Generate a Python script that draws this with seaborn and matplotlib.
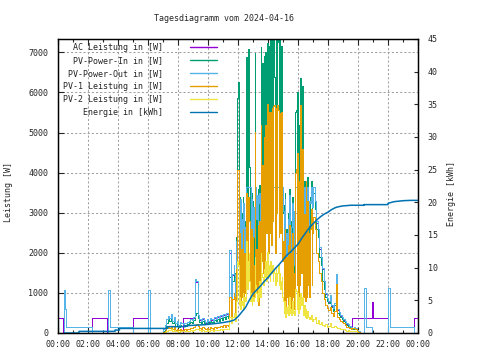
import numpy as np
import matplotlib
matplotlib.use("Agg")
import matplotlib.pyplot as plt
from matplotlib.ticker import MultipleLocator
from matplotlib.lines import Line2D
import seaborn as sns

# ---------------- data ----------------
title = "Tagesdiagramm vom 2024-04-16"
names = ["AC Leistung in [W]", "PV-Power-In in [W]", "PV-Power-Out in [W]",
         "PV-1 Leistung in [W]", "PV-2 Leistung in [W]", "Energie in [kWh]"]
colors = ["#9400D3", "#009E73", "#56B4E9", "#E69F00", "#F0E442", "#0072B2"]
xticks_h = [0, 2, 4, 6, 8, 10, 12, 14, 16, 18, 20, 22, 24]
xtick_labels = ["00:00", "02:00", "04:00", "06:00", "08:00", "10:00", "12:00",
                "14:00", "16:00", "18:00", "20:00", "22:00", "00:00"]

# sample times (hours): morning every 6 min, midday every 3 min, evening every 6 min
morn_t = np.round(np.arange(7.0, 11.71, 0.1), 2)     # 48
mid_t = np.round(np.arange(11.75, 17.001, 0.05), 2)  # 106
eve_t = np.round(np.arange(17.1, 20.21, 0.1), 2)     # 32

# PV-Power-In
pv_in_morn = [
    50, 120, 250, 350, 300, 380, 250, 300, 180, 220,
    150, 200, 180, 170, 200, 180, 220, 240, 280, 260,
    330, 450, 500, 380, 280, 240, 300, 260, 220, 280,
    240, 300, 280, 240, 330, 290, 350, 310, 380, 330,
    400, 350, 420, 380, 1400, 700, 1300, 1500]
pv_in_mid = [
    1500, 600, 2400, 4500, 5860, 6265, 1800, 3400, 1200, 3000, 1500, 3400, 1000, 2800, 1600, 3600, 6890, 3000, 7080, 7050,
    4140, 1500, 3500, 1200, 3300, 1400, 2500, 6975, 2000, 3000, 1500, 3600, 1200, 3700, 2000, 7140, 3000, 6730, 2500, 6900,
    3000, 7000, 4000, 6200, 7230, 3500, 7150, 4200, 7300, 3800, 7300, 4500, 7300, 6390, 3500, 7300, 4800, 7300, 7260, 4000,
    7300, 4300, 7150, 6730, 3000, 3200, 1000, 3500, 800, 2600, 1500, 3000, 900, 3600, 1200, 2800, 1000, 3400, 1500, 2200,
    1000, 5500, 5560, 2000, 6010, 1500, 5200, 2000, 6350, 2500, 6160, 4800, 1500, 3800, 1200, 3600, 1400, 3900, 1800, 3200,
    1500, 3400, 3800, 1800, 3300, 3500]
pv_in_eve = [
    3100, 2600, 2400, 1900, 1700, 1300, 1100, 900, 800,
    750, 850, 650, 560, 700, 1250, 500, 460, 400, 360,
    310, 260, 200, 180, 150, 110, 90, 110, 100, 55,
    25, 0, 0]

# PV-Power-Out
pv_out_morn = [
    100, 200, 350, 420, 380, 475, 300, 400, 250, 300,
    200, 280, 240, 230, 260, 240, 280, 300, 350, 320,
    400, 1350, 1300, 450, 350, 300, 380, 320, 280, 350,
    300, 380, 340, 300, 400, 350, 420, 380, 450, 400,
    480, 420, 500, 450, 2060, 800, 1480, 1700]
pv_out_mid = [
    1480, 850, 2300, 3640, 3640, 3640, 3050, 2400, 3350, 1700, 2850, 2100, 3250, 1600, 2650, 3450, 3640, 3640, 3640, 3640,
    3640, 3640, 2500, 3350, 1900, 3150, 2400, 3640, 3640, 2850, 3450, 2300, 3250, 3500, 2650, 3640, 3640, 3640, 3640, 3640,
    3640, 3640, 3640, 3640, 3640, 3640, 3640, 3640, 3640, 3640, 3640, 3640, 3640, 3640, 3640, 3640, 3640, 3640, 3640, 3640,
    3640, 3640, 3640, 3640, 3640, 3050, 2300, 3350, 1700, 2500, 1450, 2850, 2100, 3450, 1900, 1500, 2650, 3250, 2100, 1700,
    3050, 3640, 3640, 3640, 3640, 3350, 3640, 2850, 3640, 3640, 3640, 3640, 2700, 3640, 2500, 3450, 2300, 3640, 3050, 2700,
    3300, 3250, 3640, 3350, 3150, 3640]
pv_out_eve = [
    3300, 2800, 2600, 2150, 1900, 1630, 1300, 1000, 880,
    800, 950, 700, 620, 760, 1480, 600, 520, 450, 400,
    350, 300, 240, 220, 180, 150, 120, 140, 120, 80,
    40, 0, 0]

# AC Leistung (midday it runs just under PV-Power-Out)
ac_morn = [
    0, 0, 0, 0, 0, 0, 0, 0, 0, 0,
    0, 0, 0, 380, 380, 380, 380, 380, 380, 380,
    380, 1330, 1280, 430, 330, 280, 360, 300, 260, 330,
    280, 360, 320, 280, 380, 330, 400, 360, 430, 380,
    460, 400, 480, 430, 2000, 780, 1450, 1650]
ac_mid = pv_out_mid
ac_eve = [
    3250, 2750, 2550, 2100, 1850, 1600, 1250, 980, 850,
    780, 920, 680, 600, 740, 1450, 580, 500, 430, 380,
    330, 280, 220, 200, 160, 130, 380, 380, 380, 380,
    380, 380, 380]

# PV-1 Leistung
pv1_morn = [
    20, 50, 120, 150, 130, 180, 110, 140, 80, 100,
    70, 90, 80, 75, 90, 80, 100, 110, 130, 120,
    150, 200, 230, 170, 130, 110, 140, 120, 100, 130,
    110, 140, 130, 110, 150, 130, 160, 140, 180, 150,
    190, 160, 200, 180, 900, 400, 850, 1000]
pv1_mid = [
    900, 400, 1600, 3000, 4060, 4060, 1200, 2500, 700, 2100, 900, 2600, 600, 2000, 1000, 2700, 3500, 1500, 3400, 3200,
    2800, 900, 2600, 700, 2400, 800, 1700, 5015, 1200, 2100, 900, 2700, 700, 2800, 1100, 5200, 1800, 4200, 1500, 4900,
    1800, 5200, 2500, 4300, 5700, 2000, 5500, 2500, 5520, 2200, 5600, 2800, 5650, 5680, 2000, 5600, 3000, 5680, 5560, 2400,
    5480, 2500, 5500, 4900, 1800, 2300, 600, 2600, 500, 1900, 900, 2200, 600, 2700, 800, 2000, 600, 2500, 900, 1500,
    600, 4000, 4100, 1200, 4500, 900, 3800, 1200, 5680, 1500, 4600, 3600, 900, 2980, 800, 3800, 900, 3300, 1200, 2500,
    900, 2600, 3100, 1200, 2500, 2900]
pv1_eve = [
    2600, 2000, 1800, 1500, 1300, 1000, 850, 700, 620,
    580, 650, 500, 430, 540, 1230, 400, 360, 300, 280,
    240, 200, 160, 140, 120, 90, 120, 130, 100, 50,
    25, 0, 0]

# PV-2 Leistung
pv2_morn = [
    10, 30, 60, 80, 70, 90, 60, 70, 40, 50,
    35, 45, 40, 40, 45, 40, 50, 55, 65, 60,
    80, 100, 110, 90, 70, 60, 70, 60, 50, 65,
    55, 70, 65, 55, 80, 70, 85, 75, 90, 80,
    100, 90, 110, 100, 400, 250, 400, 450]
pv2_mid = [
    500, 300, 800, 1300, 1800, 1700, 700, 900, 600, 800, 700, 1000, 600, 900, 800, 1200, 2300, 1100, 1800, 2000,
    1300, 800, 1000, 700, 900, 800, 900, 1900, 1200, 1000, 800, 1100, 900, 1300, 900, 2000, 1500, 1400, 1200, 1600,
    1400, 1800, 1300, 1500, 2015, 1400, 1700, 1300, 1800, 1500, 1700, 1300, 1600, 1500, 1200, 1650, 1300, 1500, 1700, 1200,
    1500, 1100, 1300, 1400, 900, 800, 500, 800, 400, 650, 500, 700, 450, 900, 500, 600, 450, 800, 500, 550,
    450, 1100, 1050, 600, 1000, 500, 900, 600, 1000, 700, 900, 750, 450, 700, 400, 600, 380, 550, 400, 350,
    400, 350, 450, 380, 300, 350]
pv2_eve = [
    400, 250, 320, 220, 280, 200, 180, 220, 160,
    180, 240, 160, 150, 180, 150, 120, 130, 110, 100,
    100, 80, 60, 80, 60, 40, 50, 50, 40, 25,
    10, 0, 0]

# night-time step changes
ac_night_t = [0.0, 0.35, 2.28, 3.25, 5.02, 6.03]
ac_night_v = [380, 0, 380, 0, 380, 0]
ac_late_t = [20.95, 21.0, 22.0, 23.73, 24.0]
ac_late_v = [780, 380, 0, 380, 380]

out_night_t = [0.0, 0.37, 0.45, 0.5, 2.27, 3.3, 3.45, 5.0, 6.02, 6.1]
out_night_v = [0, 1080, 600, 160, 0, 1080, 160, 0, 1080, 0]
out_late_t = [20.42, 20.53, 20.95, 22.02, 22.12, 23.73, 24.0]
out_late_v = [1110, 140, 0, 1110, 140, 0, 0]

# daily energy (kWh)
energy_t = [0.45, 1.4, 1.4, 3.8, 3.8, 4.1, 4.1, 7.3, 7.3, 8.5, 8.5, 9.8, 10.5, 11.0,
            11.5, 11.75, 12.0, 12.25, 12.5, 12.75, 13.0, 13.25, 13.5, 13.75, 14.0,
            14.25, 14.5, 14.75, 15.0, 15.25, 15.5, 15.75, 16.0, 16.25, 16.5, 16.75,
            17.0, 17.25, 17.5, 17.75, 18.0, 18.25, 18.5, 18.75, 19.0, 19.5, 20.4,
            20.4, 22.0, 22.0, 22.4, 23.0, 23.5, 24.0]
energy_v = [0.0, 0.0, 0.25, 0.25, 0.45, 0.45, 0.7, 0.7, 0.97, 0.97, 1.12, 1.27, 1.45, 1.6,
            1.8, 2.0, 2.5, 3.2, 3.9, 5.0, 6.0, 6.6, 7.2, 7.9, 8.5,
            9.2, 9.9, 10.5, 11.2, 11.9, 12.4, 13.0, 13.6, 14.5, 15.3, 16.1,
            16.7, 17.3, 17.8, 18.2, 18.5, 18.9, 19.2, 19.35, 19.45, 19.55, 19.55,
            19.65, 19.65, 19.85, 20.1, 20.25, 20.3, 20.3]

# ---------------- plot ----------------
sns.set_style("ticks")
plt.rcParams["font.family"] = ["DejaVu Sans Mono"]
plt.rcParams["font.size"] = 6

fig = plt.figure(figsize=(4.8, 3.6), dpi=100)
ax = fig.add_axes([58 / 480, 27 / 360, 360 / 480, 294 / 360])
ax2 = ax.twinx()

day_t = list(morn_t) + list(mid_t) + list(eve_t)
series = [
    (ac_night_t + day_t + ac_late_t, ac_night_v + ac_morn + list(ac_mid) + ac_eve + ac_late_v),
    (day_t, pv_in_morn + pv_in_mid + pv_in_eve),
    (out_night_t + day_t + out_late_t, out_night_v + pv_out_morn + pv_out_mid + pv_out_eve + out_late_v),
    (day_t, pv1_morn + pv1_mid + pv1_eve),
    (day_t, pv2_morn + pv2_mid + pv2_eve),
]
for (t, v), c in zip(series, colors[:5]):
    sns.lineplot(x=t, y=v, ax=ax, color=c, linewidth=0.6, drawstyle="steps-post",
                 estimator=None, sort=False, legend=False, antialiased=False)
sns.lineplot(x=energy_t, y=energy_v, ax=ax2, color=colors[5], linewidth=1.1,
             estimator=None, sort=False, legend=False)

ax.set_xlim(0, 24)
ax.set_ylim(0, 7333)
ax2.set_ylim(0, 45)
ax.set_xticks(xticks_h)
ax.set_xticklabels(xtick_labels)
ax.xaxis.set_minor_locator(MultipleLocator(1))
ax.set_yticks(range(0, 7001, 1000))
ax2.set_yticks(range(0, 46, 5))
ax.set_xlabel("")
ax.set_ylabel("")
ax2.set_ylabel("")

ax.grid(True, which="major", color="#a0a0a0", linestyle=(0, (2, 2)), linewidth=0.75)
ax.set_axisbelow(True)
for a in (ax, ax2):
    for s in a.spines.values():
        s.set_linewidth(0.9)
        s.set_color("black")
ax.tick_params(axis="both", which="major", direction="in", length=4, width=0.8,
               top=True, right=False, labelsize=6, pad=7)
ax.tick_params(axis="x", which="minor", direction="in", length=2.5, width=0.8, top=True)
ax.tick_params(axis="x", which="major", pad=5)
ax2.tick_params(axis="y", which="major", direction="in", length=3, width=0.8,
                left=False, labelsize=6, pad=7)

handles = [Line2D([], [], color=c, linewidth=1.0) for c in colors]
leg = ax2.legend(handles, [n.rjust(20) for n in names], loc="upper left",
                 bbox_to_anchor=(0.0147, 0.988), frameon=False, markerfirst=False,
                 handlelength=3.24, handletextpad=3.2, labelspacing=0.5,
                 borderpad=0, borderaxespad=0,
                 prop={"family": "DejaVu Sans Mono", "size": 6})

fig.text(223.5 / 480, 1 - 18.3 / 360, title, ha="center", va="center", fontsize=6)
fig.text(9 / 480, 1 - 192.5 / 360, "Leistung [W]", rotation=90, ha="center", va="center", fontsize=6)
fig.text(451.7 / 480, 1 - 194 / 360, "Energie [kWh]", rotation=90, ha="center", va="center", fontsize=6)

fig.savefig("out.png", dpi=100)
